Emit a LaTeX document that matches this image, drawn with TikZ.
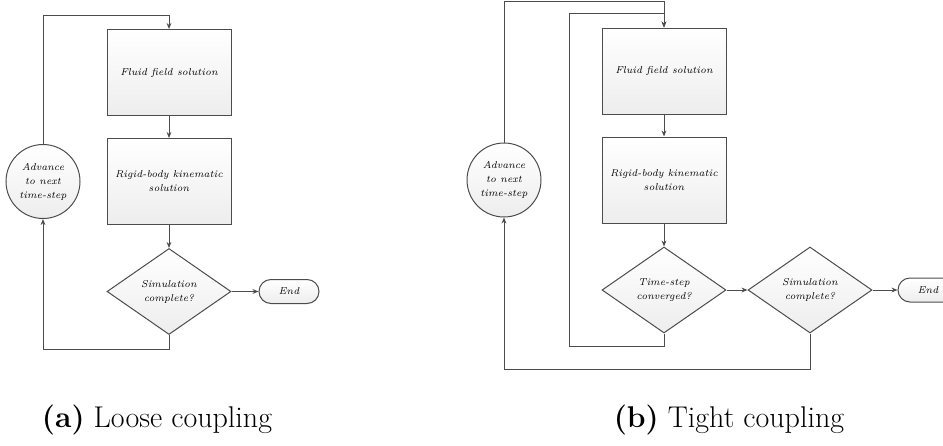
\documentclass[tikz,border=0pt]{standalone}
\usepackage{tikz}
\usetikzlibrary{positioning, shapes, arrows.meta}

\tikzset{
	flow/.style={draw=black!70, line width=0.5pt, top color=white, bottom color=black!7,
		font=\fontsize{5}{7}\selectfont\itshape, align=center, inner sep=1pt},
	procbox/.style={flow, rectangle, minimum width=62pt, minimum height=43pt},
	decide/.style={flow, diamond, shape aspect=1.44, minimum width=62pt, minimum height=43pt, inner sep=0pt},
	advance/.style={flow, circle, minimum size=37pt, inner sep=0pt},
	endbox/.style={flow, rectangle, rounded corners=6pt, minimum width=30pt, minimum height=12pt},
	link/.style={draw=black!70, line width=0.5pt, -{Stealth[length=3pt,width=2.4pt]}},
	caption/.style={font=\fontsize{15}{18}\selectfont}
}

\begin{document}
\begin{tikzpicture}

	\useasboundingbox (0,0) rectangle (471.5pt,-222.5pt);

	% (a) loose coupling
	\node[procbox] (fluidA) at (84.5pt,-36.25pt) {Fluid field solution};
	\node[procbox, below=11pt of fluidA] (rigidA) {Rigid-body kinematic\\solution};
	\node[decide, below=11.5pt of rigidA] (simA) {Simulation\\complete?};
	\node[advance, left=13pt of rigidA] (advA) {Advance\\to next\\time-step};
	\node[endbox, right=13.5pt of simA] (endA) {End};
	\coordinate[above=6.75pt of fluidA.north] (topA);

	\draw[link] (fluidA) -- (rigidA);
	\draw[link] (rigidA) -- (simA);
	\draw[link] (simA) -- (endA);
	\draw[link] (simA.south) -- ++(0,-7pt) -| (advA.south);
	\draw[link] (advA.north) |- (topA) -- (fluidA.north);

	\node[caption] (capA) at (78.5pt,-210pt) {\textbf{(a)} Loose coupling};

	% (b) tight coupling
	\node[procbox] (fluidB) at (332pt,-35.5pt) {Fluid field solution};
	\node[procbox, below=11pt of fluidB] (rigidB) {Rigid-body kinematic\\solution};
	\node[decide, below=11.5pt of rigidB] (convB) {Time-step\\converged?};
	\node[decide, right=10.5pt of convB] (simB) {Simulation\\complete?};
	\node[advance, left=30pt of rigidB] (advB) {Advance\\to next\\time-step};
	\node[endbox, right=12.5pt of simB] (endB) {End};
	\coordinate[above left=7pt and 16pt of fluidB.north west] (innerB);
	\coordinate[above=13pt of fluidB.north] (outerB);

	\draw[link] (fluidB) -- (rigidB);
	\draw[link] (rigidB) -- (convB);
	\draw[link] (convB) -- (simB);
	\draw[link] (simB) -- (endB);
	\draw[link] (convB.south) -- ++(0,-6.5pt) -| (innerB) -| (fluidB.north);
	\draw[link] (simB.south) -- ++(0,-18pt) -| (advB.south);
	\draw[link] (advB.north) |- (outerB) -- (fluidB.north);

	\node[caption] (capB) at (364.5pt,-210pt) {\textbf{(b)} Tight coupling};

\end{tikzpicture}
\end{document}
